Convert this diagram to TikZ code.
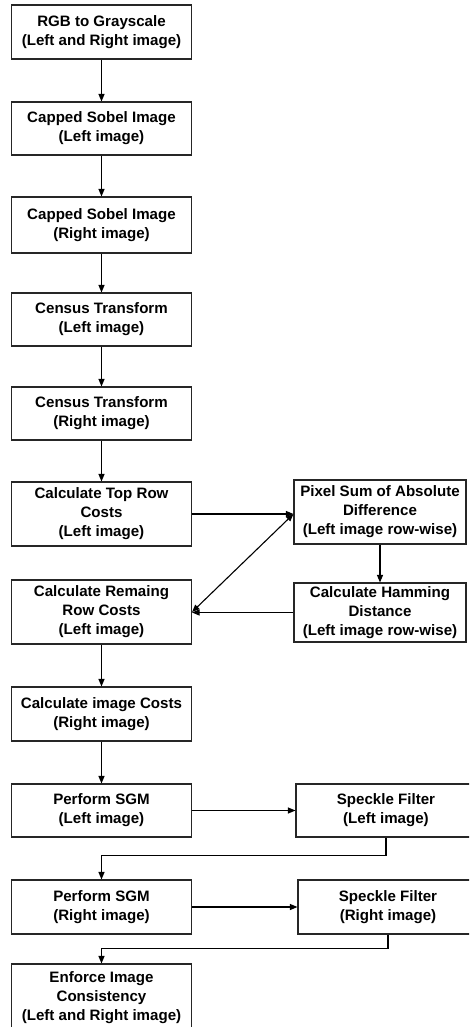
\documentclass[tikz,border=0pt]{standalone}
\usepackage{fontspec}
\setmainfont{Liberation Sans}
\usetikzlibrary{arrows.meta}
\begin{document}
\begin{tikzpicture}[x=1pt,y=-1pt,
  box/.style={draw=black!85, line width=1.1pt, align=center, inner sep=0pt,
    font=\fontsize{15.1}{19}\selectfont\bfseries},
  lbox/.style={box, minimum width=180pt},
  rbox/.style={box, minimum width=172pt},
  sbox/.style={box, minimum width=180pt},
  flow/.style={line width=1.1pt, draw=black, -{Triangle[length=7.5pt,width=6pt]}},
  both/.style={line width=1.1pt, draw=black, {Triangle[length=7.5pt,width=6pt]}-{Triangle[length=7.5pt,width=6pt]}}]
\clip (0,0) rectangle (469,1027);

% main column
\node[lbox, minimum height=54pt] (b1) at (101.5,32) {RGB to Grayscale\\(Left and Right image)};
\node[lbox, minimum height=53pt] (b2) at (101.5,128.5) {Capped Sobel Image\\(Left image)};
\node[lbox, minimum height=56pt] (b3) at (101.5,225) {Capped Sobel Image\\(Right image)};
\node[lbox, minimum height=53pt] (b4) at (101.5,319.5) {Census Transform\\(Left image)};
\node[lbox, minimum height=53pt] (b5) at (101.5,413.5) {Census Transform\\(Right image)};
\node[lbox, minimum height=64pt] (b6) at (101.5,514) {Calculate Top Row\\Costs\\(Left image)};
\node[lbox, minimum height=64pt] (b7) at (101.5,612) {Calculate Remaing\\Row Costs\\(Left image)};
\node[lbox, minimum height=54pt] (b8) at (101.5,714) {Calculate image Costs\\(Right image)};
\node[lbox, minimum height=53pt] (b9) at (101.5,810.5) {Perform SGM\\(Left image)};
\node[lbox, minimum height=54pt] (b10) at (101.5,907) {Perform SGM\\(Right image)};
\node[lbox, minimum height=68pt] (b11) at (101.5,998) {Enforce Image\\Consistency\\(Left and Right image)};

% side column
\node[rbox, minimum height=64pt] (psad) at (380,512) {Pixel Sum of Absolute\\Difference\\(Left image row-wise)};
\node[rbox, minimum height=59pt] (ham) at (380,612.5) {Calculate Hamming\\Distance\\(Left image row-wise)};
\node[sbox, minimum height=53pt] (s1) at (386,810.5) {Speckle Filter\\(Left image)};
\node[sbox, minimum height=54pt] (s2) at (388,907) {Speckle Filter\\(Right image)};

% connectors
\draw[flow] (b1) -- (b2);
\draw[flow] (b2) -- (b3);
\draw[flow] (b3) -- (b4);
\draw[flow] (b4) -- (b5);
\draw[flow] (b5) -- (b6);
\draw[flow] (b6.east) -- (b6.east -| psad.west);
\draw[both] (b7.east) -- (b6.east -| psad.west);
\draw[flow] (psad.south -| ham.north) -- (ham.north);
\draw[flow] (ham.west) -- (ham.west -| b7.east);
\draw[flow] (b7) -- (b8);
\draw[flow] (b8) -- (b9);
\draw[flow] (b9) -- (s1);
\draw[flow] (s1.south) -- ++(0,18) -| (b10.north);
\draw[flow] (b10) -- (s2);
\draw[flow] (s2.south) -- ++(0,14) -| (b11.north);
\end{tikzpicture}
\end{document}
